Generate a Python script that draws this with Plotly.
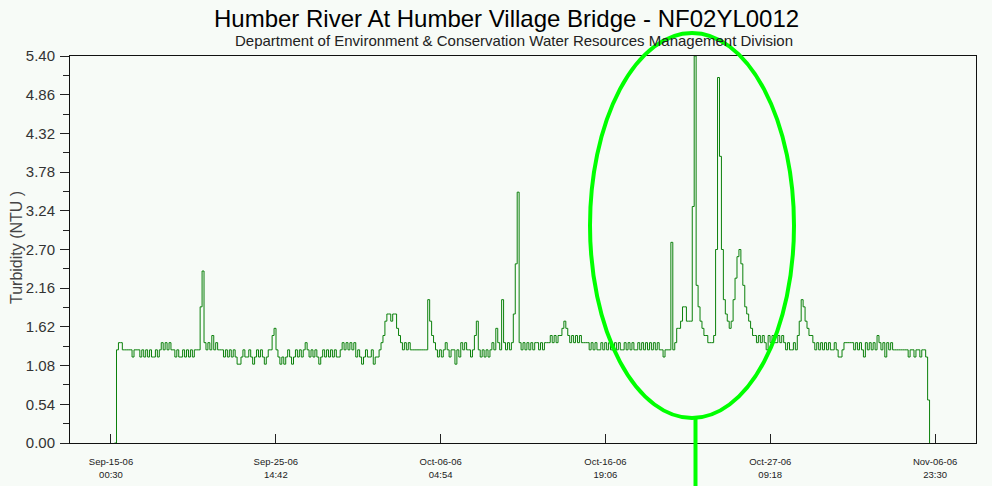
import pandas as pd
import plotly.graph_objects as go

# ---------------- data (3-hourly turbidity readings, NTU) ----------------
# September 15 - 30, 2006 (8 readings per day: 00,03,06,09,12,15,18,21 h)
sep_values = [
    None, None, 0.0, 1.3, 1.4, 1.4, 1.3, 1.3,
    1.3, 1.3, 1.3, 1.2, 1.3, 1.3, 1.3, 1.2,
    1.3, 1.2, 1.3, 1.2, 1.3, 1.2, 1.2, 1.3,
    1.2, 1.3, 1.4, 1.3, 1.4, 1.3, 1.4, 1.3,
    1.3, 1.2, 1.3, 1.2, 1.2, 1.3, 1.2, 1.3,
    1.2, 1.3, 1.2, 1.3, 1.3, 1.3, 1.9, 2.4,
    1.4, 1.3, 1.4, 1.3, 1.5, 1.3, 1.4, 1.3,
    1.3, 1.3, 1.2, 1.3, 1.2, 1.3, 1.2, 1.3,
    1.2, 1.1, 1.1, 1.2, 1.3, 1.2, 1.2, 1.3,
    1.2, 1.1, 1.2, 1.3, 1.2, 1.3, 1.2, 1.1,
    1.2, 1.3, 1.3, 1.5, 1.6, 1.3, 1.2, 1.1,
    1.2, 1.1, 1.2, 1.3, 1.2, 1.1, 1.2, 1.3,
    1.2, 1.3, 1.2, 1.3, 1.4, 1.3, 1.2, 1.3,
    1.2, 1.3, 1.2, 1.1, 1.2, 1.3, 1.2, 1.3,
    1.2, 1.3, 1.2, 1.3, 1.2, 1.2, 1.3, 1.4,
    1.3, 1.4, 1.3, 1.4, 1.3, 1.4, 1.2, 1.3,
]
# October 1 - 31, 2006
oct_values = [
    1.2, 1.1, 1.2, 1.3, 1.2, 1.2, 1.3, 1.1,
    1.2, 1.2, 1.3, 1.4, 1.5, 1.7, 1.8, 1.8,
    1.7, 1.8, 1.8, 1.6, 1.5, 1.4, 1.3, 1.4,
    1.3, 1.4, 1.3, 1.3, 1.3, 1.3, 1.3, 1.3,
    1.3, 1.3, 1.3, 2.0, 1.7, 1.5, 1.4, 1.3,
    1.2, 1.3, 1.2, 1.3, 1.4, 1.3, 1.2, 1.3,
    1.3, 1.1, 1.3, 1.2, 1.4, 1.3, 1.4, 1.3,
    1.3, 1.2, 1.3, 1.5, 1.7, 1.3, 1.2, 1.3,
    1.2, 1.3, 1.2, 1.3, 1.4, 1.3, 1.6, 1.4,
    1.3, 2.0, 1.4, 1.3, 1.4, 1.3, 1.4, 1.8,
    2.5, 3.5, 1.4, 1.3, 1.4, 1.3, 1.4, 1.3,
    1.4, 1.3, 1.4, 1.4, 1.3, 1.4, 1.3, 1.4,
    1.4, 1.4, 1.5, 1.4, 1.5, 1.4, 1.5, 1.5,
    1.6, 1.7, 1.6, 1.5, 1.4, 1.5, 1.4, 1.5,
    1.4, 1.5, 1.4, 1.4, 1.4, 1.4, 1.3, 1.4,
    1.3, 1.4, 1.3, 1.3, 1.4, 1.3, 1.4, 1.3,
    1.4, 1.3, 1.3, 1.4, 1.3, 1.4, 1.3, 1.3,
    1.4, 1.3, 1.4, 1.3, 1.4, 1.3, 1.3, 1.4,
    1.3, 1.4, 1.3, 1.4, 1.3, 1.4, 1.3, 1.4,
    1.3, 1.4, 1.3, 1.3, 1.2, 1.3, 1.3, 1.3,
    2.8, 1.3, 1.4, 1.6, 1.6, 1.7, 1.9, 1.9,
    1.7, 1.7, 1.7, 3.3, 5.4, 2.2, 1.9, 1.7,
    1.6, 1.5, 1.5, 1.4, 1.4, 1.4, 1.5, 2.7,
    5.1, 4.0, 2.7, 2.0, 1.8, 1.7, 1.6, 1.7,
    2.0, 2.3, 2.6, 2.7, 2.5, 2.2, 1.9, 1.8,
    1.7, 1.6, 1.5, 1.5, 1.4, 1.5, 1.4, 1.5,
    1.4, 1.3, 1.5, 1.4, 1.5, 1.4, 1.4, 1.5,
    1.4, 1.5, 1.4, 1.3, 1.4, 1.3, 1.3, 1.4,
    1.3, 1.5, 1.7, 2.0, 1.9, 1.7, 1.6, 1.5,
    1.5, 1.4, 1.3, 1.4, 1.3, 1.4, 1.3, 1.4,
    1.3, 1.4, 1.3, 1.3, 1.4, 1.3, 1.2, 1.2,
]
# November 1 - 6, 2006
nov_values = [
    1.3, 1.4, 1.4, 1.4, 1.4, 1.4, 1.3, 1.4,
    1.3, 1.4, 1.3, 1.2, 1.4, 1.3, 1.4, 1.3,
    1.4, 1.3, 1.5, 1.4, 1.3, 1.4, 1.2, 1.4,
    1.3, 1.4, 1.3, 1.3, 1.3, 1.3, 1.3, 1.3,
    1.3, 1.3, 1.2, 1.3, 1.3, 1.2, 1.3, 1.3,
    1.2, 1.3, 1.3, 1.2, 0.6, 0.0, None, None,
]

start_time = "2006-09-15 00:00"
x_range = ["2006-09-12 09:17", "2006-11-09 14:38"]

x_tick_vals = ["2006-09-12 10:20", "2006-09-15 00:30", "2006-09-25 14:42",
               "2006-10-06 04:54", "2006-10-16 19:06", "2006-10-27 09:18",
               "2006-11-06 23:30"]
x_tick_text = ["", "Sep-15-06<br>00:30", "Sep-25-06<br>14:42",
               "Oct-06-06<br>04:54", "Oct-16-06<br>19:06", "Oct-27-06<br>09:18",
               "Nov-06-06<br>23:30"]

y_max = 5.40
y_step = 0.54

title_text = "Humber River At Humber Village Bridge - NF02YL0012"
subtitle_text = "Department of Environment & Conservation Water Resources Management Division"
y_title = "Turbidity (NTU )"

# ---------------- figure ----------------
values = sep_values + oct_values + nov_values
times = pd.date_range(start_time, periods=len(values), freq="3h")

W, H = 992, 486
L, T = 70, 56
PW, PH = 906, 387
R, B = W - L - PW, H - T - PH


def px(x):   # page pixel -> paper x
    return (x - L) / PW


def py(y):   # page pixel -> paper y
    return (T + PH - y) / PH


BG = "#F7FBF7"
FONT = "Liberation Sans, Arial, sans-serif"

fig = go.Figure()
fig.add_trace(go.Scatter(
    x=times, y=values, mode="lines",
    line=dict(color="#0b800b", width=1, shape="hv"),
    connectgaps=False, hoverinfo="skip", showlegend=False,
))

fig.update_layout(
    width=W, height=H,
    margin=dict(l=L, r=R, t=T, b=B, pad=0, autoexpand=False),
    paper_bgcolor=BG, plot_bgcolor=BG,
    font=dict(family=FONT, color="#222222"),
    showlegend=False,
    xaxis=dict(
        type="date", range=x_range, automargin=False,
        tickvals=x_tick_vals, ticktext=x_tick_text,
        ticks="inside", ticklen=9, tickwidth=1, tickcolor="#222222",
        tickfont=dict(size=9.5, color="#222222"),
        showgrid=False, zeroline=False,
        showline=True, linecolor="#111111", linewidth=1, mirror=True,
        ticklabelstandoff=10,
    ),
    yaxis=dict(
        range=[0, y_max], tick0=0, dtick=y_step, tickformat=".2f",
        automargin=False,
        ticks="outside", ticklen=9, tickwidth=1, tickcolor="#222222",
        tickfont=dict(size=15, color="#333333"),
        minor=dict(ticks="outside", ticklen=6, dtick=y_step / 2, tick0=0,
                   tickcolor="#222222", tickwidth=1, showgrid=False),
        showgrid=False, zeroline=False,
        showline=True, linecolor="#111111", linewidth=1, mirror=True,
        ticklabelstandoff=2,
    ),
)

fig.add_annotation(text=title_text, xref="paper", yref="paper",
                   x=px(506), y=py(19), xanchor="center", yanchor="middle",
                   showarrow=False, font=dict(size=24, color="#000000", family=FONT))
fig.add_annotation(text=subtitle_text, xref="paper", yref="paper",
                   x=px(514), y=py(41), xanchor="center", yanchor="middle",
                   showarrow=False, font=dict(size=15, color="#222222", family=FONT))
fig.add_annotation(text=y_title, xref="paper", yref="paper",
                   x=px(16), y=py(248), xanchor="center", yanchor="middle",
                   textangle=-90, showarrow=False,
                   font=dict(size=16, color="#444444", family=FONT))

# green highlight ellipse with pointer line
GREEN = "#00FF00"
fig.add_shape(type="circle", xref="paper", yref="paper",
              x0=px(590), x1=px(794), y0=py(418), y1=py(33),
              line=dict(color=GREEN, width=4), layer="above")
fig.add_shape(type="line", xref="paper", yref="paper",
              x0=px(695.5), x1=px(695.5), y0=py(418), y1=py(495),
              line=dict(color=GREEN, width=4), layer="above")

fig.write_html(
    "out.html",
    config={"displayModeBar": False},
    post_script="document.body.style.margin='0';document.body.style.overflow='hidden';",
)
